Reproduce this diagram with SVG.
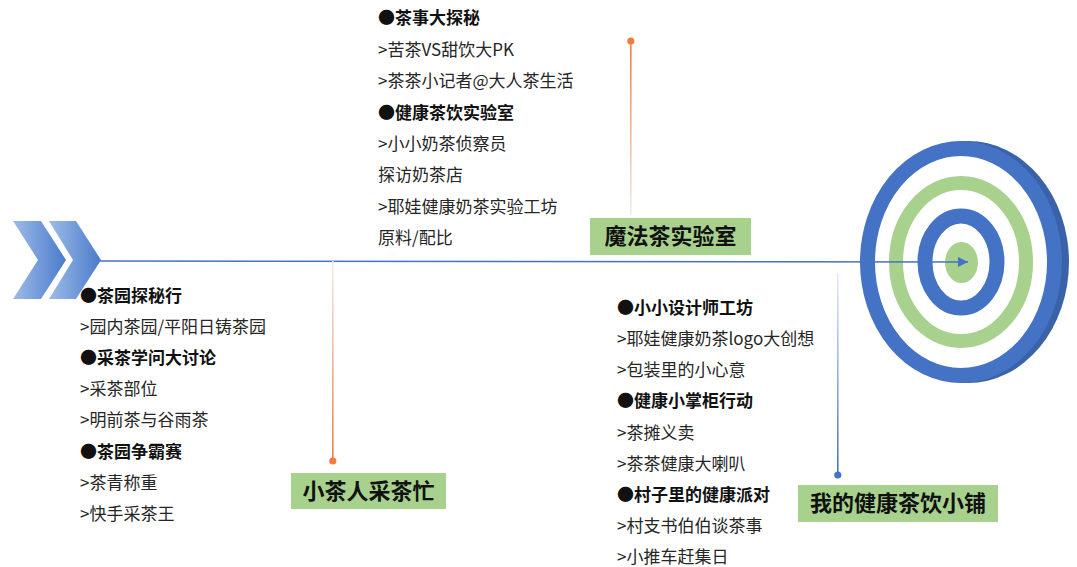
<svg xmlns="http://www.w3.org/2000/svg" width="1077" height="567" viewBox="0 0 1077 567">
<defs>
<linearGradient id="chev" x1="0" y1="0" x2="1" y2="0">
<stop offset="0" stop-color="#9dbbe8"/>
<stop offset="1" stop-color="#4a7bcb"/>
</linearGradient>
<linearGradient id="gOrangeUp" x1="0" y1="0" x2="0" y2="1">
<stop offset="0" stop-color="#eeeeee"/>
<stop offset="1" stop-color="#f07c3e"/>
</linearGradient>
<linearGradient id="gOrangeDown" x1="0" y1="0" x2="0" y2="1">
<stop offset="0" stop-color="#f07c3e"/>
<stop offset="1" stop-color="#eeeeee"/>
</linearGradient>
<linearGradient id="gBlueUp" x1="0" y1="0" x2="0" y2="1">
<stop offset="0" stop-color="#e6ecf7"/>
<stop offset="1" stop-color="#4472c4"/>
</linearGradient>
<marker id="arrow" viewBox="0 0 10 10" refX="10" refY="5" markerWidth="13" markerHeight="10" markerUnits="userSpaceOnUse" orient="auto">
<path d="M0,0 L10,5 L0,10 z" fill="#4472c4"/>
</marker>
<style>
.t{font-family:"Noto Sans CJK SC","Noto Sans",sans-serif;font-size:17px;fill:#262626}
.b{font-weight:bold;fill:#111}
.lab{fill:#a9d18e}
.lt{font-family:"Noto Sans CJK SC","Noto Sans",sans-serif;font-size:22px;font-weight:bold;fill:#111;text-anchor:middle}
</style>
</defs>
<rect width="1077" height="567" fill="#ffffff"/>

<g id="chevrons">
<polygon points="13,221 41,221 66,260 41,299 13,299 38,260" fill="url(#chev)"/>
<polygon points="49,221 76,221 101,260 76,299 49,299 73,260" fill="url(#chev)"/>
</g>

<g id="target">
<ellipse cx="968" cy="262" rx="101" ry="121" fill="#3a62a8"/>
<ellipse cx="961" cy="262" rx="93.5" ry="113.5" fill="#ffffff" stroke="#4472c4" stroke-width="15"/>
<ellipse cx="961" cy="262" rx="65" ry="79" fill="none" stroke="#a9d18e" stroke-width="14"/>
<ellipse cx="961" cy="262" rx="36" ry="46" fill="none" stroke="#4472c4" stroke-width="15"/>
<ellipse cx="961.5" cy="262.5" rx="16.5" ry="20.5" fill="#a9d18e"/>
</g>

<g id="connectors">
<line x1="100" y1="261" x2="968" y2="262" stroke="#4472c4" stroke-width="1.6" marker-end="url(#arrow)"/>
<rect x="332" y="261" width="1.6" height="200" fill="url(#gOrangeUp)"/>
<circle cx="332.8" cy="461" r="3.6" fill="#f07c3e"/>
<rect x="630" y="41" width="1.6" height="174" fill="url(#gOrangeDown)"/>
<circle cx="630.8" cy="41" r="3.6" fill="#f07c3e"/>
<rect x="837" y="273" width="1.6" height="202" fill="url(#gBlueUp)"/>
<circle cx="837.8" cy="475" r="3.6" fill="#4472c4"/>
</g>

<g id="node-magic-lab">
<rect class="lab" x="590" y="218" width="161" height="37"/>
<text class="lt" x="670.5" y="244">魔法茶实验室</text>
</g>
<g id="node-tea-picking">
<rect class="lab" x="291" y="473" width="155" height="36"/>
<text class="lt" x="368.5" y="499">小茶人采茶忙</text>
</g>
<g id="node-tea-shop">
<rect class="lab" x="798" y="485" width="200" height="37"/>
<text class="lt" x="898" y="511">我的健康茶饮小铺</text>
</g>

<g id="text-top">
<text class="t b" x="378" y="24">●茶事大探秘</text>
<text class="t" x="378" y="56">&gt;苦茶VS甜饮大PK</text>
<text class="t" x="378" y="87">&gt;茶茶小记者@大人茶生活</text>
<text class="t b" x="378" y="119">●健康茶饮实验室</text>
<text class="t" x="378" y="150">&gt;小小奶茶侦察员</text>
<text class="t" x="378" y="181">探访奶茶店</text>
<text class="t" x="378" y="213">&gt;耶娃健康奶茶实验工坊</text>
<text class="t" x="378" y="244">原料/配比</text>
</g>

<g id="text-left">
<text class="t b" x="80" y="302">●茶园探秘行</text>
<text class="t" x="80" y="333">&gt;园内茶园/平阳日铸茶园</text>
<text class="t b" x="80" y="364">●采茶学问大讨论</text>
<text class="t" x="80" y="395">&gt;采茶部位</text>
<text class="t" x="80" y="426">&gt;明前茶与谷雨茶</text>
<text class="t b" x="80" y="458">●茶园争霸赛</text>
<text class="t" x="80" y="489">&gt;茶青称重</text>
<text class="t" x="80" y="520">&gt;快手采茶王</text>
</g>

<g id="text-right">
<text class="t b" x="617" y="314">●小小设计师工坊</text>
<text class="t" x="617" y="345">&gt;耶娃健康奶茶logo大创想</text>
<text class="t" x="617" y="376">&gt;包装里的小心意</text>
<text class="t b" x="617" y="407">●健康小掌柜行动</text>
<text class="t" x="617" y="439">&gt;茶摊义卖</text>
<text class="t" x="617" y="470">&gt;茶茶健康大喇叭</text>
<text class="t b" x="617" y="501">●村子里的健康派对</text>
<text class="t" x="617" y="532">&gt;村支书伯伯谈茶事</text>
<text class="t" x="617" y="563">&gt;小推车赶集日</text>
</g>
</svg>
